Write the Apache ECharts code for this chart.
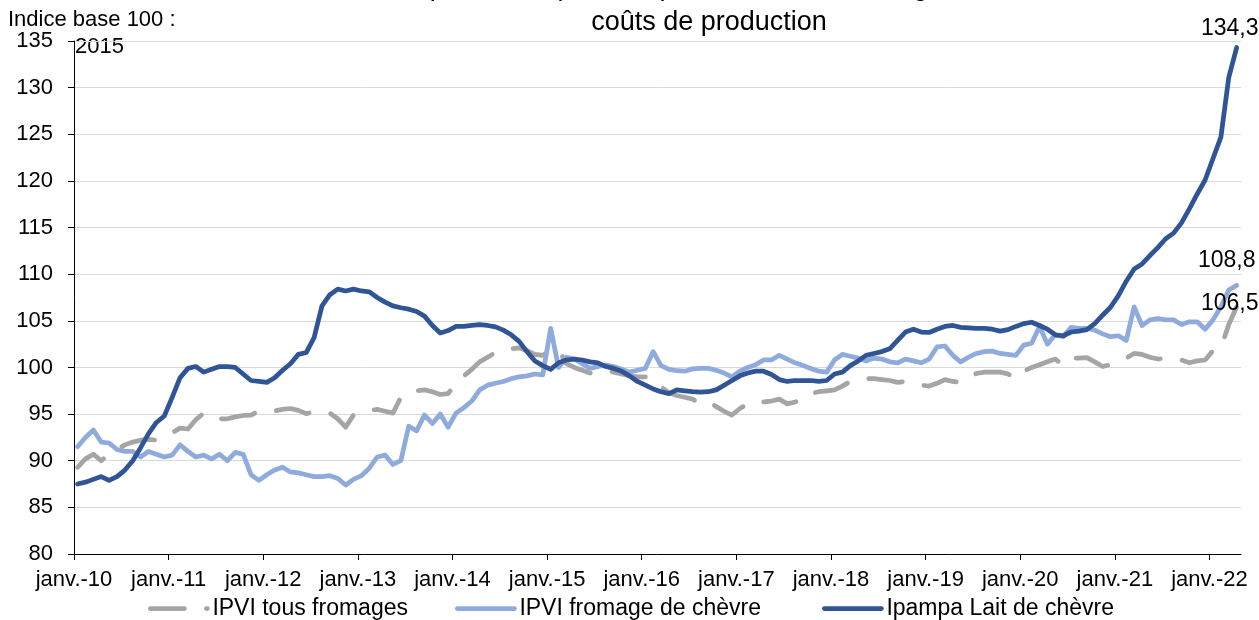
<!DOCTYPE html>
<html>
<head>
<meta charset="utf-8">
<script src="https://cdn.jsdelivr.net/npm/echarts@6/dist/echarts.min.js"></script>
<style>
html,body{margin:0;padding:0;background:#fff;}
#chart{width:1259px;height:620px;}
</style>
</head>
<body>
<div id="chart"></div>
<script>
// Monthly data, Jan 2010 .. Apr 2022 (148 months), index base 100 = 2015
const yearLabels = ['janv.-10','janv.-11','janv.-12','janv.-13','janv.-14','janv.-15','janv.-16','janv.-17','janv.-18','janv.-19','janv.-20','janv.-21','janv.-22'];
const seriesNames = ['IPVI tous fromages','IPVI fromage de chèvre','Ipampa Lait de chèvre'];

const ipviTousFromages = [
 89.3,90.2,90.7,90.0,90.7,91.2,91.7,92.0,92.2,92.3,
 92.2,92.5,93.0,93.5,93.4,94.4,95.1,95.0,94.5,94.5,
 94.7,94.85,94.9,95.3,95.4,95.35,95.5,95.6,95.4,95.05,
 95.25,95.25,95.1,94.5,93.6,94.9,95.2,95.4,95.5,95.3,
 95.1,96.8,97.3,97.5,97.6,97.4,97.1,97.2,98.3,99.1,
 99.8,100.6,101.1,101.6,101.9,102.0,102.1,101.8,101.4,101.3,
 101.8,101.9,100.4,100.0,99.7,99.4,99.5,99.7,99.5,99.3,
 99.1,99.0,99.0,98.8,97.9,97.3,97.0,96.8,96.6,96.1,
 96.3,95.8,95.3,94.9,95.6,96.1,96.0,96.3,96.4,96.6,
 96.1,96.3,96.5,97.2,97.4,97.5,97.6,98.0,98.5,98.6,
 98.8,98.8,98.7,98.6,98.4,98.5,98.3,98.1,98.0,98.3,
 98.7,98.5,98.4,99.0,99.35,99.5,99.5,99.5,99.3,98.8,
 99.6,100.0,100.3,100.6,100.9,100.25,101.0,101.0,101.05,100.6,
 100.1,100.3,100.7,101.0,101.5,101.4,101.1,100.9,101.0,100.9,
 100.8,100.5,100.7,100.8,101.8,102.1,104.6,106.5
];
const ipviFromageChevre = [
 91.5,92.5,93.3,92.0,91.9,91.2,91.0,91.0,90.4,91.0,
 90.7,90.4,90.6,91.7,91.0,90.4,90.6,90.2,90.7,90.0,
 90.9,90.7,88.5,87.9,88.5,89.0,89.3,88.8,88.7,88.5,
 88.3,88.3,88.4,88.1,87.4,88.0,88.4,89.2,90.4,90.6,
 89.6,90.0,93.7,93.2,94.9,94.0,95.0,93.6,95.1,95.7,
 96.4,97.6,98.1,98.3,98.5,98.8,99.0,99.1,99.3,99.2,
 104.2,100.0,101.1,100.9,100.4,99.9,100.1,100.25,100.1,99.8,
 99.5,99.7,99.9,101.7,100.2,99.8,99.65,99.6,99.85,99.9,
 99.9,99.7,99.4,99.0,99.6,100.0,100.3,100.8,100.8,101.3,
 100.9,100.5,100.2,99.9,99.6,99.5,100.8,101.4,101.2,101.0,
 100.7,101.0,100.9,100.6,100.5,100.9,100.7,100.5,100.9,102.2,
 102.3,101.3,100.6,101.1,101.5,101.7,101.75,101.5,101.4,101.3,
 102.4,102.6,104.4,102.5,103.5,103.3,104.3,104.2,104.2,104.0,
 103.6,103.3,103.4,102.9,106.5,104.5,105.1,105.25,105.1,105.1,
 104.6,104.9,104.9,104.1,105.1,106.5,108.3,108.8
];
const ipampaLaitChevre = [
 87.5,87.7,88.0,88.3,87.9,88.3,89.0,90.0,91.4,92.9,
 94.1,94.8,96.8,98.9,99.9,100.1,99.5,99.8,100.1,100.1,
 100.0,99.3,98.6,98.5,98.4,98.9,99.7,100.4,101.4,101.6,
 103.2,106.6,107.8,108.4,108.2,108.4,108.2,108.1,107.5,107.0,
 106.6,106.4,106.25,106.0,105.5,104.5,103.7,103.96,104.4,104.4,
 104.5,104.6,104.5,104.35,104.0,103.5,102.8,101.7,100.7,100.2,
 99.8,100.5,100.8,100.9,100.8,100.6,100.5,100.1,99.9,99.6,
 99.1,98.5,98.1,97.7,97.4,97.2,97.6,97.5,97.4,97.35,
 97.4,97.6,98.1,98.6,99.1,99.4,99.6,99.6,99.25,98.7,
 98.5,98.6,98.6,98.6,98.5,98.6,99.3,99.5,100.2,100.7,
 101.3,101.5,101.7,102.0,102.9,103.8,104.1,103.8,103.75,104.1,
 104.4,104.5,104.3,104.25,104.2,104.2,104.1,103.9,104.05,104.4,
 104.7,104.85,104.5,104.1,103.5,103.4,103.8,103.9,104.05,104.7,
 105.6,106.45,107.7,109.25,110.55,111.1,112.0,112.85,113.8,114.4,
 115.5,117.0,118.6,120.1,122.4,124.7,131.1,134.3
];

const FONT = '"Liberation Sans", Arial, sans-serif';
const MID_MONTH = 0.45;          // monthly values plotted mid-month on a month-index axis
const AXIS_MONTHS = 148;         // axis runs Jan 2010 .. May 2022
const yearTicks = yearLabels.map((_, k) => k * 12);

function toXY(arr){ return arr.map((v, i) => [i + MID_MONTH, v]); }
function fr(v){ return v.toFixed(1).replace('.', ','); }
function endPoint(arr, dx, dy){
  const i = arr.length - 1;
  return {
    symbol: 'circle', symbolSize: 0, silent: true,
    label: {show: true, position: 'top', distance: 5, offset: [dx, dy],
      formatter: p => fr(p.value), color: '#000', fontSize: 23, fontFamily: FONT},
    data: [{coord: [i + MID_MONTH, arr[i]], value: arr[i]}]
  };
}

const colors = ['#A5A5A5', '#8FAADC', '#2F5597'];
const LW = 4.75;
const legendBase = {
  top: 597, itemWidth: 57, itemHeight: 14, itemGap: 0, padding: 0,
  itemStyle: {opacity: 0, borderWidth: 0},
  lineStyle: {width: LW},
  textStyle: {color: '#000', fontSize: 23, fontFamily: FONT}
};

const chart = echarts.init(document.getElementById('chart'), null, {renderer: 'canvas'});
chart.setOption({
  animation: false,
  backgroundColor: '#fff',
  textStyle: {fontFamily: FONT},
  grid: {left: 74, right: 18, top: 41, bottom: 66, containLabel: false, outerBoundsMode: 'none'},
  xAxis: {
    type: 'value', min: 0, max: AXIS_MONTHS, interval: 12,
    axisLine: {show: true, lineStyle: {color: '#000', width: 1}},
    axisTick: {show: true, length: 6, lineStyle: {color: '#000'}, customValues: yearTicks},
    axisLabel: {show: true, customValues: yearTicks, color: '#000', fontSize: 22, fontFamily: FONT, margin: 15,
      formatter: v => yearLabels[Math.round(v / 12)] || ''},
    splitLine: {show: false}
  },
  yAxis: {
    type: 'value', min: 80, max: 135, interval: 5,
    axisLine: {show: true, lineStyle: {color: '#000', width: 1}},
    axisTick: {show: true, length: 6, lineStyle: {color: '#000'}},
    axisLabel: {color: '#000', fontSize: 22, fontFamily: FONT, margin: 21},
    splitLine: {show: true, lineStyle: {color: '#D9D9D9', width: 1}}
  },
  legend: [
    Object.assign({}, legendBase, {left: 148, data: [seriesNames[0]]}),
    Object.assign({}, legendBase, {left: 455, data: [seriesNames[1]]}),
    Object.assign({}, legendBase, {left: 822, data: [seriesNames[2]]})
  ],
  graphic: [
    {type: 'text', x: 712, y: -12, style: {text: 'Évolution comparée des prix à la production des fromages de chèvre et des', font: '27px ' + FONT, fill: '#000', textAlign: 'center', textVerticalAlign: 'middle'}},
    {type: 'text', x: 709, y: 23, style: {text: 'coûts de production', font: '27px ' + FONT, fill: '#000', textAlign: 'center', textVerticalAlign: 'middle'}},
    {type: 'text', x: 8, y: 20, style: {text: 'Indice base 100 :', font: '22px ' + FONT, fill: '#000', textAlign: 'left', textVerticalAlign: 'middle'}},
    {type: 'text', x: 75, y: 47, style: {text: '2015', font: '22px ' + FONT, fill: '#000', textAlign: 'left', textVerticalAlign: 'middle'}}
  ],
  series: [
    {name: seriesNames[0], type: 'line', data: toXY(ipviTousFromages), symbol: 'none', z: 2,
      itemStyle: {color: colors[0]},
      lineStyle: {color: colors[0], width: LW, type: [34, 22], cap: 'round', join: 'round'},
      markPoint: endPoint(ipviTousFromages, -7, 13)},
    {name: seriesNames[1], type: 'line', data: toXY(ipviFromageChevre), symbol: 'none', z: 3,
      itemStyle: {color: colors[1]},
      lineStyle: {color: colors[1], width: LW, cap: 'round', join: 'round'},
      markPoint: endPoint(ipviFromageChevre, -10, -8)},
    {name: seriesNames[2], type: 'line', data: toXY(ipampaLaitChevre), symbol: 'none', z: 4,
      itemStyle: {color: colors[2]},
      lineStyle: {color: colors[2], width: LW, cap: 'round', join: 'round'},
      markPoint: endPoint(ipampaLaitChevre, -7, -2)}
  ]
});
</script>
</body>
</html>
